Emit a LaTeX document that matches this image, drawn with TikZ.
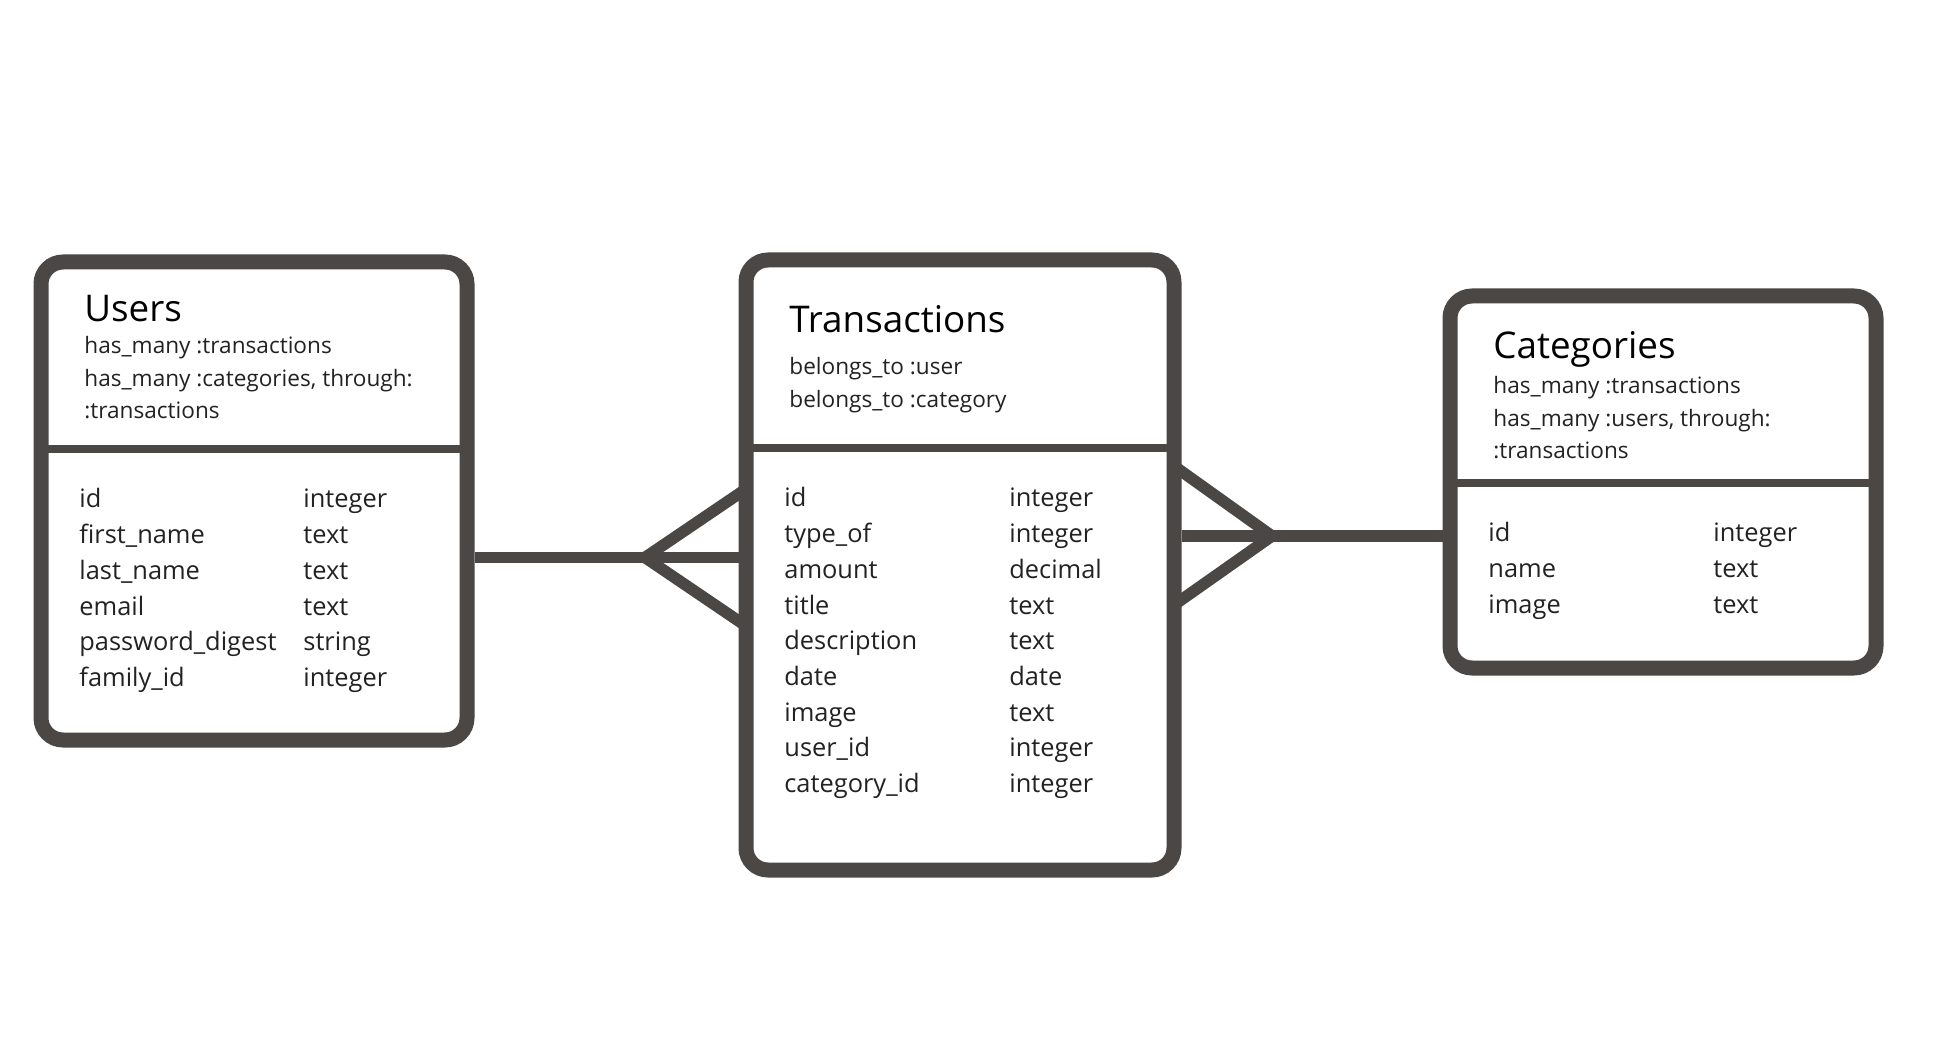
\documentclass[tikz,border=0pt]{standalone}
\usepackage{fontspec}
\setmainfont{Open Sans}
\usepackage{tikz}
\usetikzlibrary{calc}
\usepackage{xcolor}

\definecolor{erline}{RGB}{74,71,68}
\definecolor{ertext}{RGB}{34,34,34}

\tikzset{
  erbox/.style={draw=erline, line width=7.5pt, rounded corners=11pt, fill=white, inner sep=0pt},
  divider/.style={draw=erline, line width=4pt},
  link/.style={draw=erline, line width=5.75pt},
  boxtitle/.style={anchor=base west, inner sep=0pt, font=\fontsize{18.4}{22}\selectfont},
  relnote/.style={anchor=base west, inner sep=0pt, text=ertext, font=\fontsize{11.3}{16.25}\selectfont},
  fieldcol/.style={anchor=base west, inner sep=0pt, text=ertext, font=\fontsize{12.7}{17.85}\selectfont},
}

\begin{document}
\begin{tikzpicture}[x=0.5pt, y=-0.5pt]
		\useasboundingbox (0, 0) rectangle (1934, 1037);

		\node [erbox, minimum width=213pt, minimum height=239pt] (users) at (254, 501) {};
		\node [erbox, minimum width=214pt, minimum height=305pt] (trans) at (960, 565) {};
		\node [erbox, minimum width=213pt, minimum height=186pt] (cats) at (1663, 482) {};

		\draw [divider] (41, 449.5) -- (467, 449.5);
		\draw [divider] (746, 448) -- (1174, 448);
		\draw [divider] (1450, 483) -- (1876, 483);

		\coordinate (crowL) at (645, 557.5);
		\coordinate (crowLa) at (746, 489);
		\coordinate (crowLb) at (746, 626);
		\coordinate (crowR) at (1272, 536);
		\coordinate (crowRa) at (1174, 466);
		\coordinate (crowRb) at (1174, 605);

		\draw [link] (users.east |- crowL) -- (trans.west |- crowL);
		\draw [link] (crowLa) -- (crowL) -- (crowLb);
		\draw [link] (trans.east |- crowR) -- (cats.west |- crowR);
		\draw [link] (crowRa) -- (crowR) -- (crowRb);

		\node [boxtitle] (users-title) at (84, 322) {Users};
		\node [relnote] (users-rel) at (84, 354) {\begin{tabular}[t]{@{}l@{}}
			has\_many :transactions\\
			has\_many :categories, through:\\
			:transactions
		\end{tabular}};
		\node [fieldcol] (users-fields) at (79, 508) {\begin{tabular}[t]{@{}p{112pt}@{}l@{}}
			id & integer\\
			first\_name & text\\
			last\_name & text\\
			email & text\\
			password\_digest & string\\
			family\_id & integer
		\end{tabular}};

		\node [boxtitle] (trans-title) at (789, 333) {Transactions};
		\node [relnote] (trans-rel) at (789, 375) {\begin{tabular}[t]{@{}l@{}}
			belongs\_to :user\\
			belongs\_to :category
		\end{tabular}};
		\node [fieldcol] (trans-fields) at (784, 507) {\begin{tabular}[t]{@{}p{112.5pt}@{}l@{}}
			id & integer\\
			type\_of & integer\\
			amount & decimal\\
			title & text\\
			description & text\\
			date & date\\
			image & text\\
			user\_id & integer\\
			category\_id & integer
		\end{tabular}};

		\node [boxtitle] (cats-title) at (1493, 359) {Categories};
		\node [relnote] (cats-rel) at (1493, 394) {\begin{tabular}[t]{@{}l@{}}
			has\_many :transactions\\
			has\_many :users, through:\\
			:transactions
		\end{tabular}};
		\node [fieldcol] (cats-fields) at (1488, 542) {\begin{tabular}[t]{@{}p{112.5pt}@{}l@{}}
			id & integer\\
			name & text\\
			image & text
		\end{tabular}};
	\end{tikzpicture}
\end{document}
